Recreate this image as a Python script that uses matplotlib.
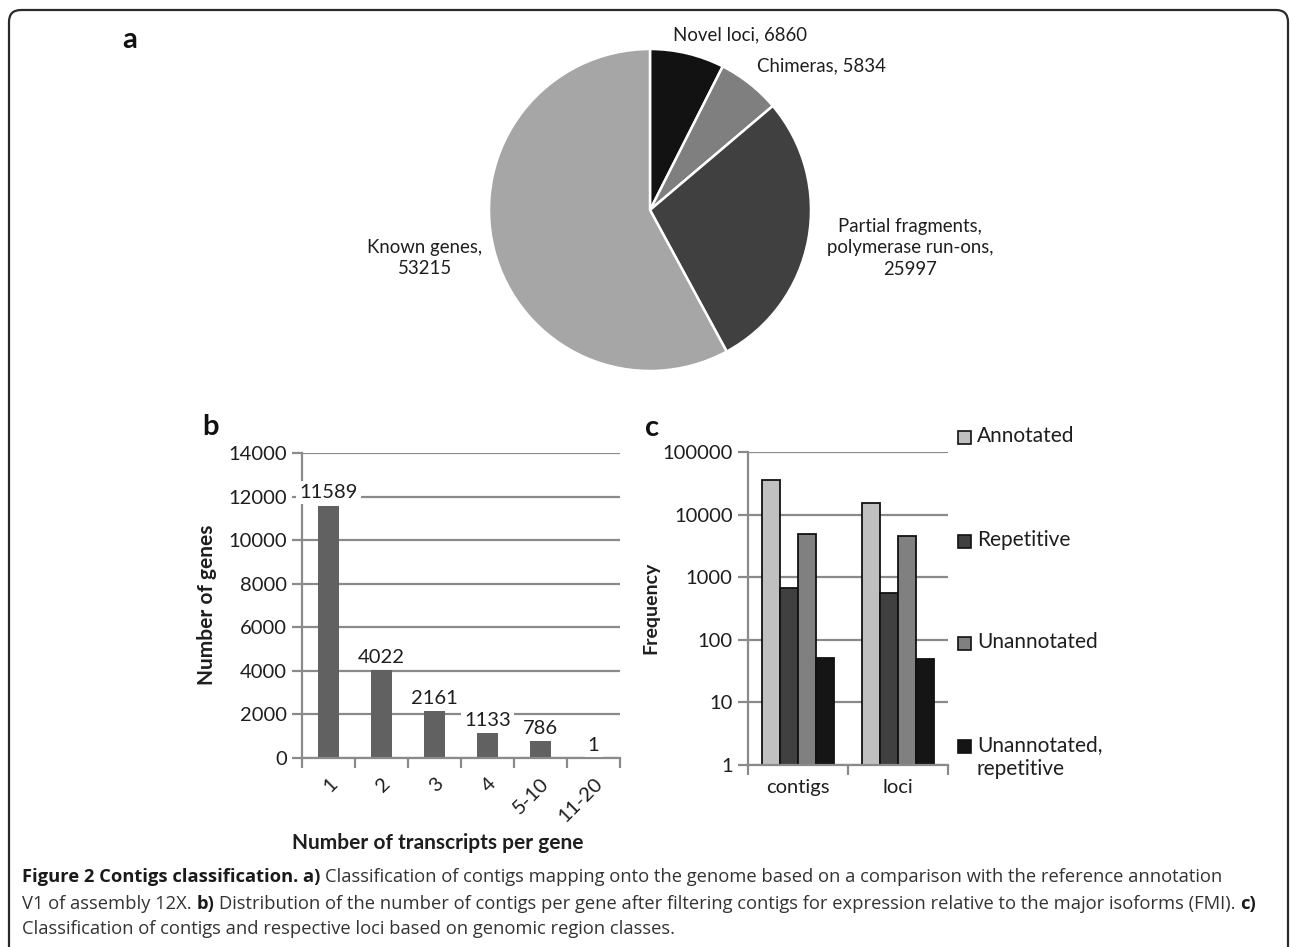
import matplotlib
matplotlib.use("Agg")
import matplotlib.pyplot as plt
from matplotlib.patches import FancyBboxPatch, Rectangle
import numpy as np

W, H = 1290, 947

# ---------------- data ----------------
pie_labels = ["Novel loci", "Chimeras", "Partial fragments,\npolymerase run-ons", "Known genes"]
pie_values = [6860, 5834, 25997, 53215]
pie_colors = ["#121212", "#7f7f7f", "#404040", "#a6a6a6"]

b_categories = ["1", "2", "3", "4", "5-10", "11-20"]
b_values = [11589, 4022, 2161, 1133, 786, 1]

c_groups = ["contigs", "loci"]
c_series = ["Annotated", "Repetitive", "Unannotated", "Unannotated,\nrepetitive"]
c_values = {
    "Annotated": [35500, 15500],
    "Repetitive": [680, 565],
    "Unannotated": [4840, 4560],
    "Unannotated,\nrepetitive": [50, 47.5],
}
c_colors = ["#c0c0c0", "#404040", "#808080", "#151515"]

FONT = "Lato"
TXT = "#1e1e1e"
GRID = "#8a8a8a"

plt.rcParams["font.family"] = [FONT, "DejaVu Sans"]

fig = plt.figure(figsize=(W / 100, H / 100), dpi=100)


def fx(x):
    return x / W


def fy(y):
    return 1 - y / H


# ---------------- border ----------------
bg = fig.add_axes([0, 0, 1, 1], zorder=-10)
bg.set_xlim(0, W)
bg.set_ylim(H, 0)
bg.axis("off")
bg.add_patch(FancyBboxPatch((9, 10), 1279, 1100, boxstyle="round,pad=0,rounding_size=12",
                            fill=False, edgecolor="#2a2a2a", linewidth=1.6, clip_on=True))

# ---------------- panel a: pie ----------------
cx, cy, r = 650, 210, 161
axa = fig.add_axes([fx(cx - r), fy(cy + r), 2 * r / W, 2 * r / H])
axa.pie(pie_values, colors=pie_colors, startangle=90, counterclock=False,
        wedgeprops=dict(edgecolor="white", linewidth=1.8))
axa.set_xlim(-1.0, 1.0)
axa.set_ylim(-1.0, 1.0)
axa.set_aspect("equal")
for p in axa.patches:
    p.set_clip_on(False)

fs_pie = 13.4
fig.text(fx(673), fy(35), f"{pie_labels[0]}, {pie_values[0]}", ha="left", va="center",
         fontsize=fs_pie, color=TXT)
fig.text(fx(757), fy(66), f"{pie_labels[1]}, {pie_values[1]}", ha="left", va="center",
         fontsize=fs_pie, color=TXT)
fig.text(fx(910), fy(248), f"{pie_labels[2]},\n{pie_values[2]}", ha="center", va="center",
         fontsize=fs_pie, color=TXT, linespacing=1.35)
fig.text(fx(425), fy(258), f"{pie_labels[3]},\n{pie_values[3]}", ha="center", va="center",
         fontsize=fs_pie, color=TXT, linespacing=1.35)

fig.text(fx(130), fy(40), "a", fontsize=21, fontweight="bold", ha="center", va="center", color="#111")
fig.text(fx(210), fy(427), "b", fontsize=21, fontweight="bold", ha="center", va="center", color="#111")
fig.text(fx(652), fy(428), "c", fontsize=21, fontweight="bold", ha="center", va="center", color="#111")


def style_axes(ax):
    for s in ["top", "right"]:
        ax.spines[s].set_visible(False)
    for s in ["left", "bottom"]:
        ax.spines[s].set_color(GRID)
        ax.spines[s].set_linewidth(1.6)
    ax.set_axisbelow(True)
    ax.grid(axis="y", color=GRID, linewidth=1.6)
    ax.tick_params(axis="y", which="major", length=7, width=1.6, color=GRID,
                   labelsize=14.5, labelcolor=TXT, pad=4)
    ax.tick_params(axis="y", which="minor", length=0)


# ---------------- panel b ----------------
axb = fig.add_axes([fx(302), fy(758), 318 / W, 305 / H])
xb = np.arange(len(b_categories))
axb.bar(xb, b_values, width=0.4, color="#616161", zorder=2)
axb.set_xlim(-0.5, len(b_categories) - 0.5)
axb.set_ylim(0, 14000)
axb.set_yticks(np.arange(0, 14001, 2000))
style_axes(axb)
axb.set_xticks(xb)
axb.set_xticklabels(b_categories, rotation=45, ha="right", va="top", rotation_mode="anchor")
axb.set_xticks(np.arange(-0.5, len(b_categories)), minor=True)
axb.tick_params(axis="x", which="major", length=0, labelsize=14.5, labelcolor=TXT, pad=12)
axb.tick_params(axis="x", which="minor", length=7, width=1.6, color=GRID)
for xi, v in zip(xb, b_values):
    axb.annotate(f"{v}", (xi, v), xytext=(0, 3), textcoords="offset points",
                 ha="center", va="bottom", fontsize=14.5, color=TXT, zorder=3,
                 bbox=dict(boxstyle="square,pad=0.15", facecolor="white", edgecolor="none"))
fig.text(fx(207), fy(605), "Number of genes", rotation=90, ha="center", va="center",
         fontsize=15, fontweight="bold", color=TXT)
fig.text(fx(438), fy(843), "Number of transcripts per gene", ha="center", va="center",
         fontsize=15, fontweight="bold", color=TXT)

# ---------------- panel c ----------------
axc = fig.add_axes([fx(748), fy(765), 200 / W, 313 / H])
xc = np.arange(len(c_groups))
bw = 0.18
for i, (name, col) in enumerate(zip(c_series, c_colors)):
    axc.bar(xc + (i - 1.5) * bw, c_values[name], width=bw, bottom=1, color=col,
            edgecolor="#111", linewidth=1.3, zorder=2)
axc.set_yscale("log")
axc.set_ylim(1, 100000)
axc.set_xlim(-0.5, len(c_groups) - 0.5)
axc.set_yticks([1, 10, 100, 1000, 10000, 100000])
axc.set_yticklabels(["1", "10", "100", "1000", "10000", "100000"])
style_axes(axc)
axc.set_xticks(xc)
axc.set_xticklabels(c_groups)
axc.set_xticks(np.arange(-0.5, len(c_groups)), minor=True)
axc.tick_params(axis="x", which="major", length=0, labelsize=14.5, labelcolor=TXT, pad=10)
axc.tick_params(axis="x", which="minor", length=7, width=1.6, color=GRID)
fig.text(fx(651), fy(608), "Frequency", rotation=90, ha="center", va="center",
         fontsize=14, fontweight="bold", color=TXT)

# legend (manual, outside right)
leg_y = [437, 541, 643, 746]
for name, col, yy in zip(c_series, c_colors, leg_y):
    bg.add_patch(Rectangle((958, yy - 6.5), 13, 13, facecolor=col, edgecolor="#111", linewidth=1.2))
    bg.text(977, yy - 11, name, ha="left", va="top", fontsize=15, color=TXT, linespacing=1.25)

# ---------------- caption ----------------
renderer = fig.canvas.get_renderer()
CAP = "Open Sans"
cap_fs = 13.2
space_px = 4.6


def rich_line(x, y, parts):
    for txt, bold in parts:
        t = fig.text(fx(x), fy(y), txt, ha="left", va="baseline", fontsize=cap_fs,
                     fontweight="bold" if bold else "normal", family=[CAP, "DejaVu Sans"],
                     color="#1a1a1a" if bold else "#333")
        bb = t.get_window_extent(renderer)
        x = bb.x1 + space_px


rich_line(22, 882, [("Figure 2 Contigs classification. a)", True),
                    ("Classification of contigs mapping onto the genome based on a comparison with the reference annotation", False)])
rich_line(22, 909, [("V1 of assembly 12X.", False), ("b)", True),
                    ("Distribution of the number of contigs per gene after filtering contigs for expression relative to the major isoforms (FMI).", False),
                    ("c)", True)])
rich_line(22, 934, [("Classification of contigs and respective loci based on genomic region classes.", False)])

fig.savefig("out.png", dpi=100)
